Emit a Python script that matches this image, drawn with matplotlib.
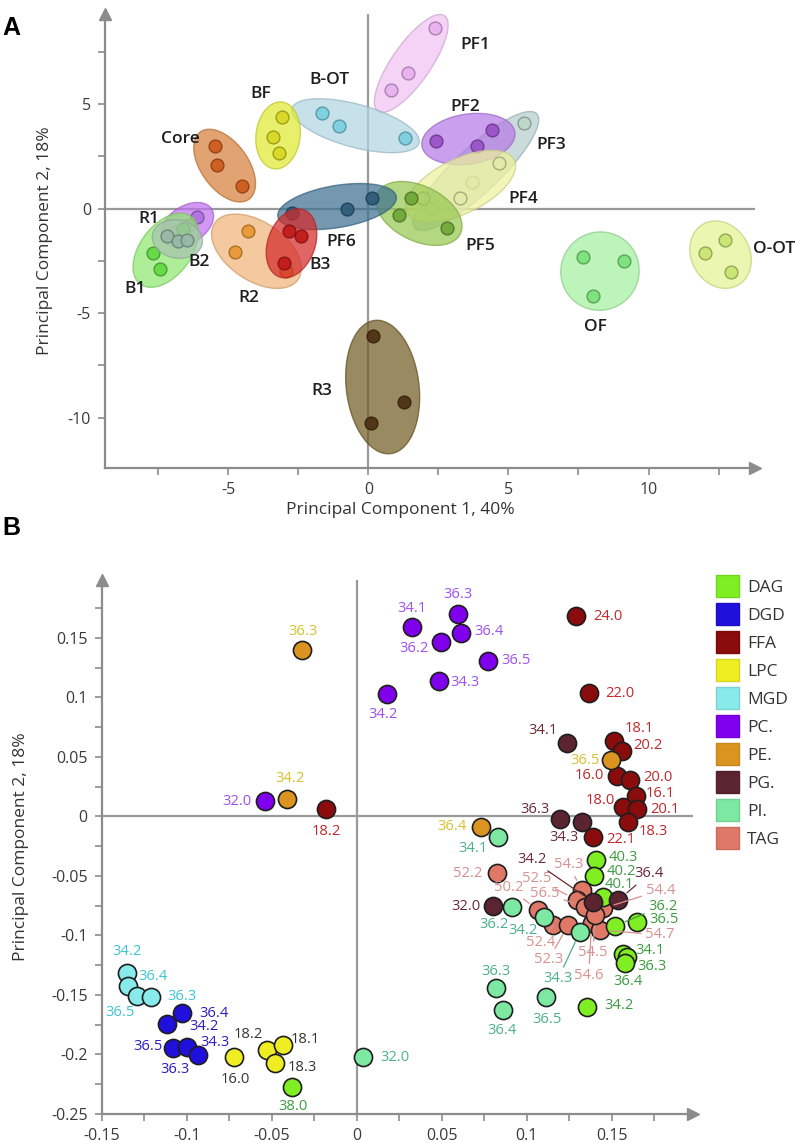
import numpy as np
import matplotlib
matplotlib.use('Agg')
import matplotlib.pyplot as plt
import matplotlib.colors as mcolors
from matplotlib.patches import Polygon, Patch

plt.rcParams['font.family'] = ['Open Sans', 'DejaVu Sans']
plt.rcParams['axes.unicode_minus'] = False

# ---------------- Panel A data: sample groups (PC1, PC2 scores) ----------------
group_names = ['R3', 'OF', 'O-OT', 'PF1', 'B-OT', 'PF3', 'PF2', 'PF4', 'PF5', 'PF6',
               'Core', 'BF', 'R2', 'B3', 'R1', 'B1', 'B2']
group_x = [[0.15, 1.27, 0.11], [7.67, 9.13, 8.0], [12.73, 12.03, 12.95],
           [2.39, 1.40, 0.80], [-1.64, -1.04, 1.30], [5.57, 3.70, 2.25],
           [2.43, 3.88, 4.40], [1.95, 3.27, 4.66], [1.10, 1.52, 2.79],
           [-2.71, -0.77, 0.13], [-5.46, -5.42, -4.51], [-3.07, -3.41, -3.19],
           [-4.28, -4.76, -2.95], [-2.83, -2.40, -3.0], [-6.1, -6.4, -6.9],
           [-7.68, -7.42, -6.6], [-7.17, -6.81, -6.47]]
group_y = [[-6.08, -9.24, -10.27], [-2.31, -2.5, -4.16], [-1.48, -2.11, -3.02],
           [8.65, 6.49, 5.67], [4.56, 3.95, 3.37], [4.11, 1.25, 0.03],
           [3.21, 3.0, 3.76], [0.51, 0.51, 2.18], [-0.29, 0.51, -0.92],
           [-0.20, -0.02, 0.51], [3.01, 2.06, 1.09], [4.37, 3.44, 2.68],
           [-1.08, -2.06, -2.98], [-1.08, -1.32, -2.59], [-0.4, -0.8, -1.1],
           [-2.11, -2.87, -1.0], [-1.32, -1.56, -1.48]]

# ---------------- Panel B data: lipid species loadings ----------------
classes = ['DAG', 'DGD', 'FFA', 'LPC', 'MGD', 'PC.', 'PE.', 'PG.', 'PI.', 'TAG']

dag_x = [0.1408, 0.1398, 0.1447, 0.1519, 0.1651, 0.1565, 0.1588, 0.1578, 0.1357, -0.0379]
dag_y = [-0.0367, -0.0502, -0.0675, -0.0922, -0.0885, -0.1157, -0.118, -0.123, -0.16, -0.2277]
dag_lab = ['40.3', '40.2', '40.1', '36.2', '36.5', '34.1', '36.3', '36.4', '34.2', '38.0']

dgd_x = [-0.1029, -0.1118, -0.1079, -0.1, -0.0932]
dgd_y = [-0.1651, -0.1745, -0.195, -0.1936, -0.2006]
dgd_lab = ['36.4', '34.2', '36.5', '36.3', '34.3']

ffa_x = [0.1288, 0.1368, 0.1515, 0.1562, 0.1529, 0.1608, 0.1643, 0.1568, 0.1651, 0.1598, 0.1392, -0.018]
ffa_y = [0.1683, 0.1034, 0.0633, 0.0551, 0.0339, 0.0305, 0.0171, 0.0076, 0.0059, -0.0045, -0.0171, 0.0059]
ffa_lab = ['24.0', '22.0', '18.1', '20.2', '16.0', '20.0', '16.1', '18.0', '20.1', '18.3', '22.1', '18.2']

lpc_x = [-0.072, -0.0529, -0.0435, -0.0481]
lpc_y = [-0.2025, -0.1964, -0.1922, -0.2071]
lpc_lab = ['16.0', '18.2', '18.1', '18.3']

mgd_x = [-0.1349, -0.1344, -0.1294, -0.1212]
mgd_y = [-0.1319, -0.1426, -0.151, -0.1521]
mgd_lab = ['34.2', '36.4', '36.5', '36.3']

pc_x = [0.0324, 0.0594, 0.0612, 0.0494, 0.0774, 0.0484, 0.018, -0.054]
pc_y = [0.1593, 0.1697, 0.1538, 0.1462, 0.1308, 0.1137, 0.1028, 0.0131]
pc_lab = ['34.1', '36.3', '36.4', '36.2', '36.5', '34.3', '34.2', '32.0']

pe_x = [-0.0322, -0.0408, 0.1496, 0.0729]
pe_y = [0.1397, 0.0148, 0.0473, -0.0087]
pe_lab = ['36.3', '34.2', '36.5', '36.4']

pg_x = [0.1239, 0.1196, 0.1324, 0.0804, 0.1388, 0.1539]
pg_y = [0.0619, -0.0025, -0.0045, -0.0754, -0.0718, -0.0703]
pg_lab = ['34.1', '36.3', '34.3', '32.0', '34.2', '36.4']

pi_x = [0.0833, 0.0912, 0.1102, 0.1314, 0.0819, 0.0859, 0.1112, 0.0039]
pi_y = [-0.0177, -0.076, -0.0843, -0.097, -0.1445, -0.1628, -0.1521, -0.2025]
pi_lab = ['34.1', '36.2', '34.2', '34.3', '36.3', '36.4', '36.5', '32.0']

tag_x = [0.0824, 0.1324, 0.1294, 0.1343, 0.1451, 0.1068, 0.1157, 0.1245, 0.1382, 0.1431, 0.1402]
tag_y = [-0.0479, -0.0619, -0.0703, -0.076, -0.0773, -0.0787, -0.0913, -0.0913, -0.0899, -0.0955, -0.0829]
tag_lab = ['52.2', '54.3', '52.5', '56.5', '54.4', '50.2', '52.4', '52.3', '54.6', '54.7', '54.5']

# ---------------- layout / style (not data) ----------------
# label offsets in image pixels (dx right, dy up) relative to each point
offsets = {
    'DAG': [(27, 2), (27, 5), (17, 12), (48, 20), (27, 2), (27, 3), (25, -10), (3, -19), (32, 1), (1, -19)],
    'DGD': [(32, -1), (37, -3), (-25, 2), (-12, -23), (17, 13)],
    'FFA': [(32, 0), (31, 0), (25, 12), (26, 5), (-27, 0), (28, 3), (24, 2), (-23, 7), (28, 0), (25, -10), (27, -3), (0, -22)],
    'LPC': [(1, -22), (-18, 16), (23, 6), (27, -5)],
    'MGD': [(0, 22), (25, 9), (-17, -17), (31, 1)],
    'PC.': [(0, 18), (0, 20), (28, 2), (-27, -6), (28, 0), (26, -1), (-4, -21), (-28, -1)],
    'PE.': [(1, 19), (3, 20), (-26, 0), (-29, 0)],
    'PG.': [(-24, 12), (-25, 10), (-18, -16), (-27, 0), (-61, 42), (31, 26)],
    'PI.': [(-25, -11), (-18, -18), (-21, -14), (-22, -47), (0, 17), (-1, -20), (1, -22), (32, 0)],
    'TAG': [(-29, 0), (-13, 25), (-40, 21), (-40, 13), (57, 18), (-30, 22), (-13, -18), (-20, -35), (-3, -52), (60, -5), (-2, -38)],
}
leaders = {('PG.', '34.2'), ('PG.', '36.4'), ('DAG', '36.2'), ('PI.', '34.3')} | \
          {('TAG', t) for t in tag_lab if t != '52.2'}

fill_col = {'DAG': '#7fee22', 'DGD': '#2010dc', 'FFA': '#8a0c0c', 'LPC': '#eeee22', 'MGD': '#88eaea',
            'PC.': '#8000ee', 'PE.': '#dc9420', 'PG.': '#5a2430', 'PI.': '#7ce8a2', 'TAG': '#e07868'}
text_col = {'DAG': '#3c9c40', 'DGD': '#2a1cc0', 'FFA': '#c0282a', 'LPC': '#333333', 'MGD': '#3ec4d4',
            'PC.': '#a050f0', 'PE.': '#d6c02c', 'PG.': '#6a2a36', 'PI.': '#4cb08c', 'TAG': '#d89090'}

grp_fill = {'R3': '#725d26', 'OF': '#a4f0a0', 'O-OT': '#e4f492', 'PF1': '#f0c2f5', 'B-OT': '#b2d6e4',
            'PF3': '#b4cece', 'PF2': '#b67ae6', 'PF4': '#eef29c', 'PF5': '#98c852', 'PF6': '#3e7190',
            'Core': '#d8803c', 'BF': '#e0ea30', 'R2': '#f2b47a', 'B3': '#d42a2a', 'R1': '#c070f0',
            'B1': '#90e870', 'B2': '#a8c4b0'}
grp_pt = {'R3': '#4a2e10', 'OF': '#78e078', 'O-OT': '#c8e470', 'PF1': '#e8b0ef', 'B-OT': '#78d0e0',
          'PF3': '#c0d8c8', 'PF2': '#9850c8', 'PF4': '#e4ecaa', 'PF5': '#6ea636', 'PF6': '#2c5a78',
          'Core': '#cc5a1a', 'BF': '#d8d820', 'R2': '#e8962e', 'B3': '#c01818', 'R1': '#b070e0',
          'B1': '#60d840', 'B2': '#98b8a8'}
grp_label_xy = {'PF1': (3.83, 7.81), 'B-OT': (-1.38, 6.14), 'BF': (-3.85, 5.46), 'PF2': (3.45, 4.87),
                'PF3': (6.53, 3.05), 'Core': (-6.69, 3.32), 'PF4': (5.52, 0.46), 'R1': (-7.84, -0.52),
                'PF6': (-0.96, -1.6), 'B2': (-6.03, -2.56), 'B3': (-1.74, -2.71), 'PF5': (3.99, -1.8),
                'B1': (-8.34, -3.86), 'R2': (-4.28, -4.26), 'OF': (8.11, -5.68), 'O-OT': (14.5, -1.95),
                'R3': (-1.65, -8.7)}

AXIS_GRAY = '#8c8c8c'


def darker(c, f=0.75):
    r, g, b = mcolors.to_rgb(c)
    return (r * f, g * f, b * f)


def group_ellipse(ax, xs, ys, pad_major=15, pad_minor=17):
    # envelope ellipse around a group, built in pixel space so it looks round
    pts = ax.transData.transform(np.column_stack([xs, ys]))
    c = pts.mean(axis=0)
    d = pts - c
    w, v = np.linalg.eigh(d.T @ d)
    proj = np.abs(d @ v).max(axis=0)
    a_minor, a_major = proj[0] + pad_minor, proj[1] + pad_major
    t = np.linspace(0, 2 * np.pi, 160)
    ring = c + np.outer(np.cos(t) * a_major, v[:, 1]) + np.outer(np.sin(t) * a_minor, v[:, 0])
    return ax.transData.inverted().transform(ring)


def style_axes(ax):
    for s in ['top', 'right']:
        ax.spines[s].set_visible(False)
    for s in ['left', 'bottom']:
        ax.spines[s].set_color(AXIS_GRAY)
        ax.spines[s].set_linewidth(1.6)
    ax.tick_params(which='both', direction='out', color=AXIS_GRAY, length=5, width=1.2,
                   labelcolor='#3a3a3a', labelsize=11.5, pad=5)
    ax.plot(1, 0, '>', transform=ax.transAxes, clip_on=False, color=AXIS_GRAY, ms=9, zorder=5)
    ax.plot(0, 1, '^', transform=ax.transAxes, clip_on=False, color=AXIS_GRAY, ms=9, zorder=5)
    ax.axhline(0, color='#9a9a9a', lw=1.6, zorder=0.5)
    ax.axvline(0, color='#9a9a9a', lw=1.6, zorder=0.5)


fig = plt.figure(figsize=(7.96, 11.43), dpi=100)

# ---------------- Panel A ----------------
axA = fig.add_axes([105 / 796, 1 - 468 / 1143, 650 / 796, 454 / 1143])
axA.set_xlim(-9.4, 13.8)
axA.set_ylim(-12.4, 9.3)
style_axes(axA)
axA.set_xticks([-5, 0, 5, 10])
axA.set_xticklabels(['-5', '0', '5', '10'])
axA.set_xticks([-7.5, -2.5, 2.5, 7.5, 12.5], minor=True)
axA.set_yticks([-10, -5, 0, 5])
axA.set_yticklabels(['-10', '-5', '0', '5'])
axA.set_yticks([-7.5, -2.5, 2.5, 7.5], minor=True)

for i, name in enumerate(group_names):
    ring = group_ellipse(axA, group_x[i], group_y[i])
    axA.add_patch(Polygon(ring, closed=True, facecolor=grp_fill[name], alpha=0.72,
                          edgecolor=darker(grp_fill[name], 0.85), lw=1.0, zorder=2 + i))
    axA.scatter(group_x[i], group_y[i], s=85, color=grp_pt[name], alpha=0.9,
                edgecolors=[darker(grp_pt[name], 0.7)], linewidths=1.0, zorder=2 + i + 0.5)

for name, (lx, ly) in grp_label_xy.items():
    axA.text(lx, ly, name, ha='center', va='center', fontsize=12.5, color='#1e1e1e',
             fontweight='semibold', zorder=40, clip_on=False)

fig.text(400 / 796, 1 - 510 / 1143, 'Principal Component 1, 40%', fontsize=12.5, color='#333333',
         ha='center', va='center')
fig.text(45 / 796, 1 - 241 / 1143, 'Principal Component 2, 18%', fontsize=12.5, color='#333333',
         ha='center', va='center', rotation=90)

# ---------------- Panel B ----------------
axB = fig.add_axes([101.7 / 796, 1 - 1113.8 / 1143, 591.6 / 796, 534.3 / 1143])
axB.set_xlim(-0.15, 0.198)
axB.set_ylim(-0.25, 0.199)
style_axes(axB)
axB.set_xticks([-0.15, -0.1, -0.05, 0, 0.05, 0.1, 0.15])
axB.set_xticklabels(['-0.15', '-0.1', '-0.05', '0', '0.05', '0.1', '0.15'])
axB.set_xticks([-0.125, -0.075, -0.025, 0.025, 0.075, 0.125, 0.175], minor=True)
axB.set_yticks([-0.25, -0.2, -0.15, -0.1, -0.05, 0, 0.05, 0.1, 0.15])
axB.set_yticklabels(['-0.25', '-0.2', '-0.15', '-0.1', '-0.05', '0', '0.05', '0.1', '0.15'])
axB.set_yticks([-0.225, -0.175, -0.125, -0.075, -0.025, 0.025, 0.075, 0.125, 0.175], minor=True)

series = {'DAG': (dag_x, dag_y, dag_lab), 'DGD': (dgd_x, dgd_y, dgd_lab), 'FFA': (ffa_x, ffa_y, ffa_lab),
          'LPC': (lpc_x, lpc_y, lpc_lab), 'MGD': (mgd_x, mgd_y, mgd_lab), 'PC.': (pc_x, pc_y, pc_lab),
          'PE.': (pe_x, pe_y, pe_lab), 'PG.': (pg_x, pg_y, pg_lab), 'PI.': (pi_x, pi_y, pi_lab),
          'TAG': (tag_x, tag_y, tag_lab)}
draw_order = ['TAG', 'DAG', 'PI.', 'PG.', 'FFA', 'PE.', 'PC.', 'LPC', 'MGD', 'DGD']

for k, cls in enumerate(draw_order):
    xs, ys, _ = series[cls]
    axB.scatter(xs, ys, s=170, color=fill_col[cls], edgecolors='#1e1e1e', linewidths=1.2, zorder=3 + k)

for cls in draw_order:
    xs, ys, labs = series[cls]
    for (x, y, lab, (dx, dy)) in zip(xs, ys, labs, offsets[cls]):
        arrow = None
        if (cls, lab) in leaders:
            arrow = dict(arrowstyle='-', color=text_col[cls], lw=0.9, shrinkA=1, shrinkB=8)
        axB.annotate(lab, (x, y), xytext=(dx, dy), textcoords='offset pixels', ha='center', va='center',
                     fontsize=10.6, color=text_col[cls], arrowprops=arrow, zorder=30)

fig.text(21 / 796, 1 - 847 / 1143, 'Principal Component 2, 18%', fontsize=12.5, color='#333333',
         ha='center', va='center', rotation=90)

handles = [Patch(facecolor=fill_col[c], edgecolor=darker(fill_col[c], 0.9)) for c in classes]
fig.legend(handles, classes, loc='upper left', bbox_to_anchor=(716 / 796, 1 - 575 / 1143),
           frameon=False, fontsize=12.5, handlelength=1.3, handleheight=1.55, handletextpad=0.5,
           labelspacing=0.36, borderpad=0, borderaxespad=0, labelcolor='#333333')

fig.text(2 / 796, 1 - 28 / 1143, 'A', fontsize=18, fontweight='bold', va='center',
         family=['Liberation Sans', 'DejaVu Sans'])
fig.text(2 / 796, 1 - 528 / 1143, 'B', fontsize=18, fontweight='bold', va='center',
         family=['Liberation Sans', 'DejaVu Sans'])

fig.savefig('out.png', dpi=100)
